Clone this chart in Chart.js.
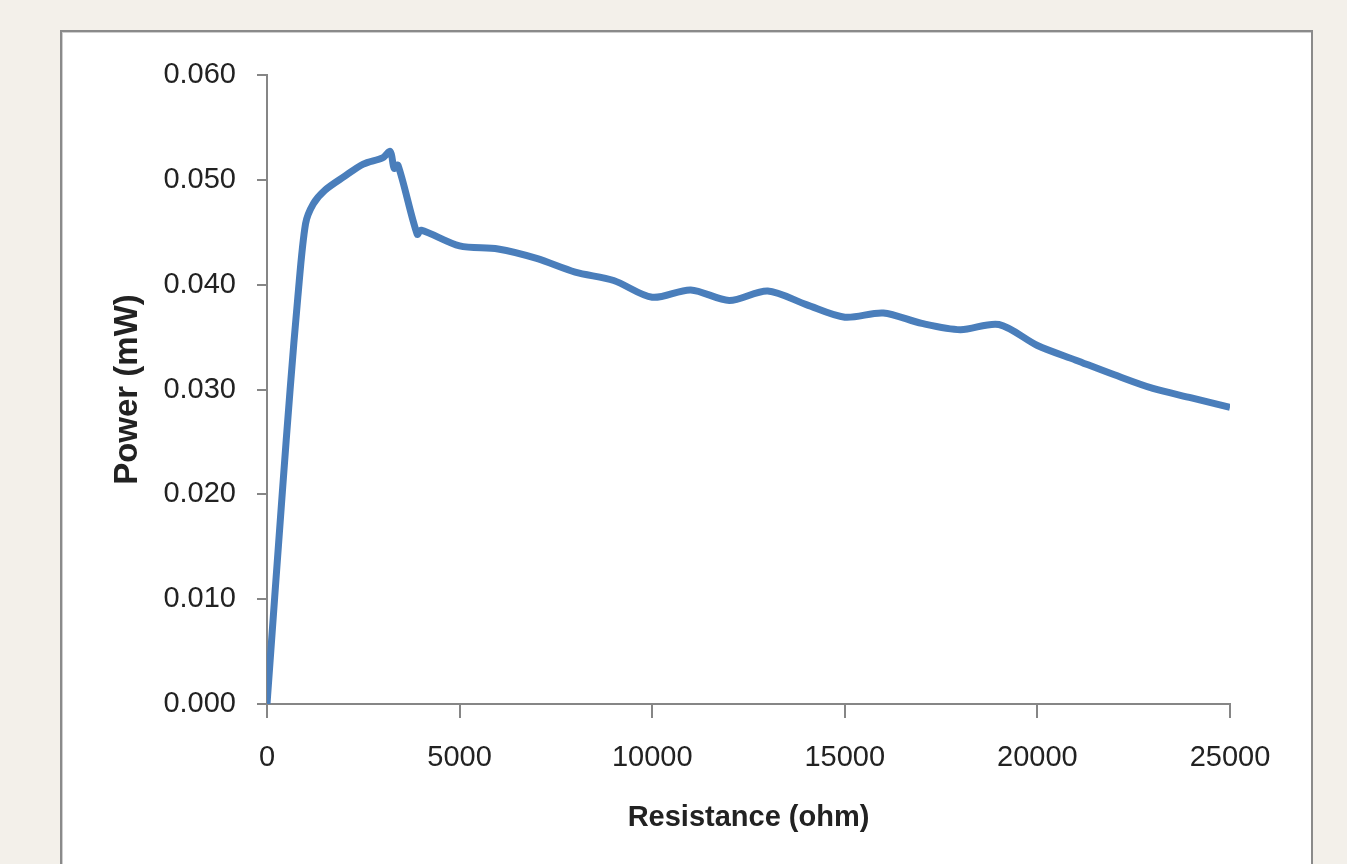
<!DOCTYPE html>
<html>
<head>
<meta charset="utf-8">
<script src="https://cdn.jsdelivr.net/npm/chart.js@4"></script>
<style>
  html, body { margin: 0; padding: 0; }
  body {
    width: 1347px; height: 864px; overflow: hidden;
    background: #f3f0ea;
    position: relative;
  }
  #frame {
    position: absolute; left: 60px; top: 30px;
    width: 1249px; height: 860px;
    background: #fff;
    border: 2px solid #8a8a8a;
    box-shadow: inset 1px 1px 0 #cfcfcf;
  }
  #wrap { position: absolute; left: 0; top: 0; width: 1347px; height: 864px; }
</style>
</head>
<body>
<div id="frame"></div>
<div id="wrap"><canvas id="powerChart"></canvas></div>
<script>
// resistance in ohm, power in mW
const resistance = [0, 200, 400, 600, 800, 1000, 1200, 1500, 2000, 2500, 3000, 3200, 3300, 3400,
  3900, 4000, 5000, 6000, 7000, 8000, 9000, 10000, 11000, 12000, 13000, 14000, 15000,
  16000, 17000, 18000, 19000, 20000, 21000, 22000, 23000, 24000, 25000];
const power = [0, 0.0102, 0.0203, 0.0300, 0.0388, 0.0458, 0.0477, 0.0490, 0.0503, 0.0515, 0.0521, 0.0527, 0.0511, 0.0514,
  0.0448, 0.0452, 0.0437, 0.0434, 0.0425, 0.0412, 0.0404, 0.0388, 0.0395, 0.0385, 0.0394, 0.0381, 0.0369,
  0.0373, 0.0363, 0.0357, 0.0362, 0.0342, 0.0328, 0.0314, 0.0301, 0.0292, 0.0283];

const xTicks = [0, 5000, 10000, 15000, 20000, 25000];
const yTicks = [0, 0.01, 0.02, 0.03, 0.04, 0.05, 0.06];

const axisGray = '#868686';
const tickFont = { family: "'Liberation Sans', Arial, sans-serif", size: 29 };

const points = resistance.map((r, i) => ({ x: r, y: power[i] }));

new Chart(document.getElementById('powerChart'), {
  type: 'scatter',
  data: {
    datasets: [{
      data: points,
      showLine: true,
      borderColor: '#4a7ebb',
      borderWidth: 7,
      pointRadius: 0,
      tension: 0.3,
      fill: false
    }]
  },
  options: {
    responsive: true,
    maintainAspectRatio: false,
    animation: false,
    events: [],
    layout: { padding: { left: 100, right: 117, top: 75, bottom: 0 } },
    plugins: { legend: { display: false }, tooltip: { enabled: false } },
    scales: {
      x: {
        type: 'linear',
        min: 0, max: 25000,
        afterBuildTicks: (s) => { s.ticks = xTicks.map(v => ({ value: v })); },
        afterFit: (s) => { s.height = 160; },
        ticks: { color: '#222', font: tickFont, padding: 23, maxRotation: 0, callback: (v) => String(v) },
        grid: { drawOnChartArea: false, drawTicks: true, tickLength: 14, color: axisGray, lineWidth: 2 },
        border: { color: axisGray, width: 2 },
        title: {
          display: true, text: 'Resistance (ohm)', color: '#222',
          font: { family: "'Liberation Sans', Arial, sans-serif", size: 29, weight: 'bold' },
          padding: { top: 0, bottom: 29 }
        }
      },
      y: {
        min: 0, max: 0.06,
        afterBuildTicks: (s) => { s.ticks = yTicks.map(v => ({ value: v })); },
        afterFit: (s) => { s.width = 167; },
        ticks: { color: '#222', font: tickFont, padding: 21, callback: (v) => v.toFixed(3) },
        grid: { drawOnChartArea: false, drawTicks: true, tickLength: 10, color: axisGray, lineWidth: 2 },
        border: { color: axisGray, width: 2 },
        title: {
          display: true, text: 'Power (mW)', color: '#222',
          font: { family: "'Liberation Sans', Arial, sans-serif", size: 33, weight: 'bold' },
          padding: { top: 8, bottom: 0 }
        }
      }
    }
  }
});
</script>
</body>
</html>
